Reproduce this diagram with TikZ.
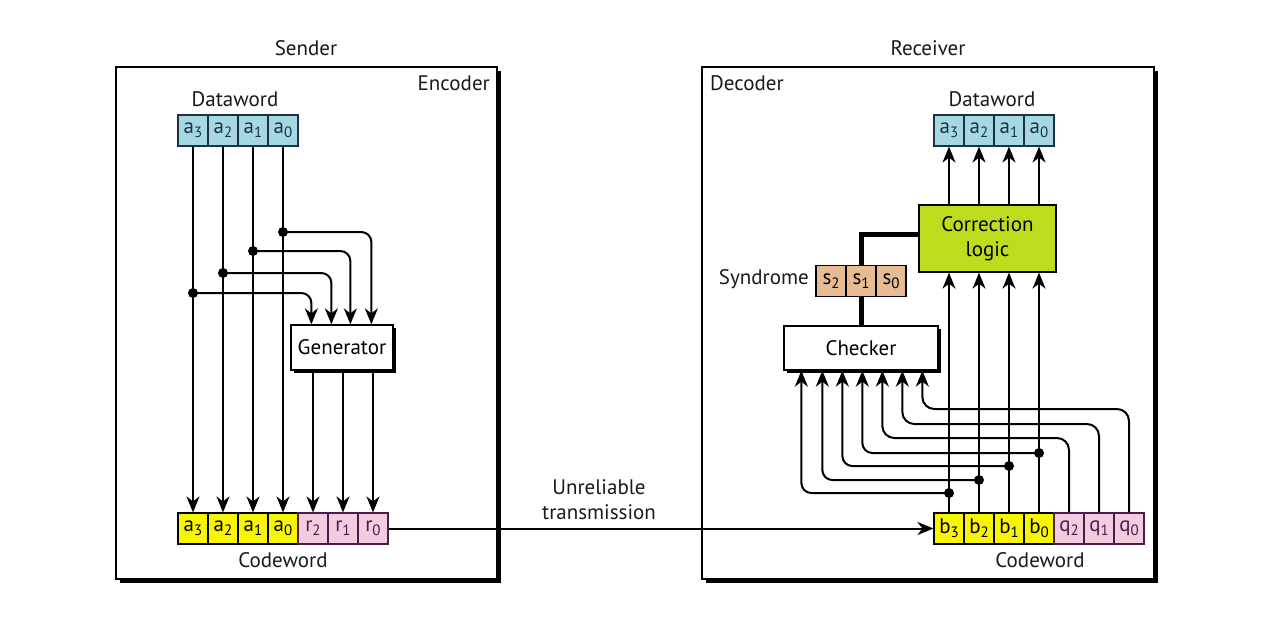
\documentclass[tikz,border=0pt]{standalone}
\usepackage{fontspec}
\setmainfont{PT Sans}
\usetikzlibrary{arrows.meta,shadows,calc}

\definecolor{dwblue}{HTML}{A6D9DF}
\definecolor{cwyellow}{HTML}{F7F500}
\definecolor{cwpink}{HTML}{F3CCE0}
\definecolor{syntan}{HTML}{E8BC92}
\definecolor{corrgreen}{HTML}{BEDB1E}
\definecolor{pinkink}{HTML}{4E1A4A}
\definecolor{blueink}{HTML}{1B2F4F}
\definecolor{inkgray}{HTML}{1A1A1A}

% a bit name with its index set lower and smaller
\newcommand\bitlabel[2]{#1\raisebox{-4pt}{\fontsize{15}{15}\selectfont #2}}

\tikzset{
  lbl/.style={font=\fontsize{21}{24}\selectfont, inner sep=0, text=inkgray},
  cell/.style={draw, line width=1.1pt, minimum width=30pt, minimum height=31pt,
    inner sep=0, font=\fontsize{21}{21}\selectfont},
  dcell/.style={cell, fill=dwblue, draw=blueink, text=blueink},
  ycell/.style={cell, fill=cwyellow},
  pcell/.style={cell, fill=cwpink, draw=pinkink, text=pinkink},
  scell/.style={cell, fill=syntan},
  frame/.style={draw, line width=1.3pt, fill=white,
    general shadow={fill=black, shadow xshift=4pt, shadow yshift=-4pt}},
  unitbox/.style={draw, line width=1.3pt, fill=white,
    general shadow={fill=black, shadow xshift=3pt, shadow yshift=-3pt},
    font=\fontsize{21}{24}\selectfont, inner sep=0},
  wire/.style={line width=2pt},
  arr/.style={-{Stealth[length=16pt,width=13pt,inset=5pt]}},
  dot/.style={circle, fill, inner sep=0, minimum size=10pt},
  bus/.style={line width=5pt},
}

\begin{document}
\begin{tikzpicture}[x=1pt,y=-1pt]
\useasboundingbox (0,0) rectangle (1276,624);

% ---------------- enclosing frames ----------------
\node[frame, minimum width=381pt, minimum height=512pt] (enc) at (306.5,323) {};
\node[frame, minimum width=452pt, minimum height=512pt] (dec) at (928,323) {};

\node[lbl] (sender) at (306,48) {Sender};
\node[lbl] (receiver) at (928,48) {Receiver};
\node[lbl, anchor=east] (enclbl) at (490,83) {Encoder};
\node[lbl, anchor=west] (declbl) at (710,83) {Decoder};

% ---------------- sender side ----------------
\node[lbl] (dwlbl) at (235,99) {Dataword};
\node[dcell] (da3) at (193,130.5) {\bitlabel{a}{3}};
\node[dcell] (da2) at (223,130.5) {\bitlabel{a}{2}};
\node[dcell] (da1) at (253,130.5) {\bitlabel{a}{1}};
\node[dcell] (da0) at (283,130.5) {\bitlabel{a}{0}};

\node[ycell] (ca3) at (193,528.5) {\bitlabel{a}{3}};
\node[ycell] (ca2) at (223,528.5) {\bitlabel{a}{2}};
\node[ycell] (ca1) at (253,528.5) {\bitlabel{a}{1}};
\node[ycell] (ca0) at (283,528.5) {\bitlabel{a}{0}};
\node[pcell] (cr2) at (313,528.5) {\bitlabel{r}{2}};
\node[pcell] (cr1) at (343,528.5) {\bitlabel{r}{1}};
\node[pcell] (cr0) at (373,528.5) {\bitlabel{r}{0}};
\node[lbl] (cwlbl) at (283,560) {Codeword};

\node[unitbox, minimum width=102pt, minimum height=45pt] (gen) at (342,347.5) {Generator};

\foreach \i in {3,2,1,0}{
  \draw[wire,arr] (da\i) -- (ca\i);
}
\node[dot] (j3) at (193,293) {};
\node[dot] (j2) at (223,273) {};
\node[dot] (j1) at (253,251) {};
\node[dot] (j0) at (283,232) {};
\draw[wire,arr,rounded corners=10pt] (j3.center) -| ([xshift=21pt]gen.north west);
\draw[wire,arr,rounded corners=10pt] (j2.center) -| ([xshift=41pt]gen.north west);
\draw[wire,arr,rounded corners=10pt] (j1.center) -| ([xshift=60pt]gen.north west);
\draw[wire,arr,rounded corners=10pt] (j0.center) -| ([xshift=81pt]gen.north west);

\foreach \i in {2,1,0}{
  \draw[wire,arr] (gen.south -| cr\i) -- (cr\i);
}

% ---------------- receiver side ----------------
\node[lbl] (rdwlbl) at (992,99) {Dataword};
\node[dcell] (rd3) at (949,130.5) {\bitlabel{a}{3}};
\node[dcell] (rd2) at (979,130.5) {\bitlabel{a}{2}};
\node[dcell] (rd1) at (1009,130.5) {\bitlabel{a}{1}};
\node[dcell] (rd0) at (1039,130.5) {\bitlabel{a}{0}};

\node[draw, line width=1.3pt, fill=corrgreen, minimum width=137pt, minimum height=67pt,
  align=center, inner sep=0, font=\fontsize{21}{25}\selectfont] (corr) at (987.5,238.5) {Correction\\logic};

\node[scell] (s2) at (831,281) {\bitlabel{s}{2}};
\node[scell] (s1) at (861,281) {\bitlabel{s}{1}};
\node[scell] (s0) at (891,281) {\bitlabel{s}{0}};
\node[lbl, anchor=east] (synlbl) at (809,279) {Syndrome};

\node[unitbox, minimum width=154pt, minimum height=44pt] (chk) at (861,348) {Checker};

\node[ycell] (cb3) at (949,528.5) {\bitlabel{b}{3}};
\node[ycell] (cb2) at (979,528.5) {\bitlabel{b}{2}};
\node[ycell] (cb1) at (1009,528.5) {\bitlabel{b}{1}};
\node[ycell] (cb0) at (1039,528.5) {\bitlabel{b}{0}};
\node[pcell] (cq2) at (1069,528.5) {\bitlabel{q}{2}};
\node[pcell] (cq1) at (1099,528.5) {\bitlabel{q}{1}};
\node[pcell] (cq0) at (1129,528.5) {\bitlabel{q}{0}};
\node[lbl] (rcwlbl) at (1040,560) {Codeword};

% corrected dataword out of the correction logic
\foreach \i in {3,2,1,0}{
  \draw[wire,arr] (corr.north -| rd\i) -- (rd\i);
}
% syndrome bus
\draw[bus] ([yshift=4.5pt]corr.west) -| (s1.north);
\draw[bus] (s1.south) -- (chk.north -| s1);

% data bits up to the correction logic
\foreach \i in {3,2,1,0}{
  \draw[wire,arr] (cb\i) -- (cb\i |- corr.south);
}
% taps into the checker
\node[dot] (k3) at (949,493) {};
\node[dot] (k2) at (979,480) {};
\node[dot] (k1) at (1009,466) {};
\node[dot] (k0) at (1039,453) {};
\draw[wire,arr,rounded corners=10pt] (k3.center) -| ([xshift=18pt]chk.south west);
\draw[wire,arr,rounded corners=10pt] (k2.center) -| ([xshift=39pt]chk.south west);
\draw[wire,arr,rounded corners=10pt] (k1.center) -| ([xshift=59pt]chk.south west);
\draw[wire,arr,rounded corners=10pt] (k0.center) -| ([xshift=79pt]chk.south west);
\draw[wire,arr,rounded corners=12pt] (cq2.north) -- (cq2.north |- 0,438) -| ([xshift=99pt]chk.south west);
\draw[wire,arr,rounded corners=12pt] (cq1.north) -- (cq1.north |- 0,424) -| ([xshift=119pt]chk.south west);
\draw[wire,arr,rounded corners=12pt] (cq0.north) -- (cq0.north |- 0,409) -| ([xshift=139pt]chk.south west);

% ---------------- channel ----------------
\draw[wire,arr] (cr0) -- (cb3);
\node[lbl, align=center, font=\fontsize{21}{25}\selectfont] (chan) at (599,500) {Unreliable\\transmission};

\end{tikzpicture}
\end{document}
